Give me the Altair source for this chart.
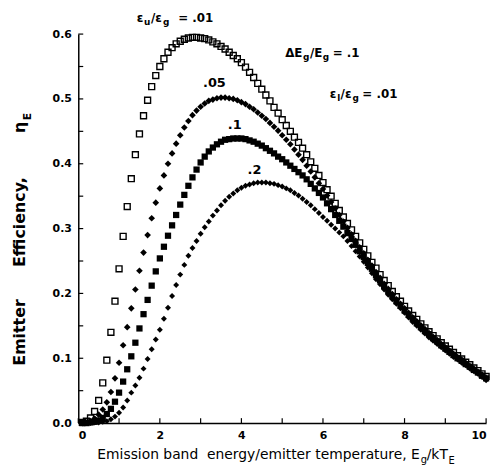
import altair as alt
import pandas as pd

# ---------------- data ----------------
X = [round(0.1 * i, 1) for i in range(1, 101)]

# eps_u/eps_g = .01  (open squares)
Y_001 = [0.001, 0.003, 0.008, 0.018, 0.035, 0.062, 0.097, 0.140, 0.188, 0.238,
         0.288, 0.334, 0.377, 0.414, 0.446, 0.474, 0.498, 0.519, 0.536, 0.550,
         0.562, 0.572, 0.579, 0.585, 0.589, 0.592, 0.594, 0.595, 0.595, 0.594,
         0.593, 0.591, 0.588, 0.585, 0.581, 0.577, 0.572, 0.567, 0.562, 0.556,
         0.549, 0.541, 0.533, 0.524, 0.515, 0.506, 0.497, 0.487, 0.478, 0.468,
         0.459, 0.450, 0.441, 0.433, 0.424, 0.414, 0.403, 0.393, 0.382, 0.371,
         0.360, 0.350, 0.339, 0.328, 0.318, 0.308, 0.298, 0.288, 0.278, 0.268,
         0.258, 0.248, 0.239, 0.229, 0.220, 0.212, 0.203, 0.195, 0.188, 0.180,
         0.173, 0.166, 0.160, 0.153, 0.147, 0.141, 0.135, 0.130, 0.124, 0.119,
         0.114, 0.109, 0.104, 0.099, 0.094, 0.090, 0.085, 0.081, 0.076, 0.072]

# .05 (filled diamonds)
Y_005 = [0.000, 0.001, 0.003, 0.007, 0.013, 0.021, 0.032, 0.048, 0.069, 0.093,
         0.120, 0.148, 0.177, 0.206, 0.235, 0.263, 0.290, 0.316, 0.340, 0.362,
         0.382, 0.400, 0.416, 0.431, 0.444, 0.456, 0.466, 0.475, 0.482, 0.488,
         0.493, 0.497, 0.499, 0.501, 0.502, 0.502, 0.501, 0.500, 0.498, 0.495,
         0.492, 0.488, 0.484, 0.479, 0.474, 0.469, 0.463, 0.457, 0.451, 0.444,
         0.437, 0.430, 0.422, 0.414, 0.406, 0.397, 0.388, 0.379, 0.370, 0.361,
         0.351, 0.341, 0.331, 0.321, 0.311, 0.301, 0.291, 0.281, 0.271, 0.262,
         0.252, 0.243, 0.233, 0.224, 0.215, 0.207, 0.199, 0.191, 0.184, 0.177,
         0.170, 0.163, 0.157, 0.151, 0.145, 0.139, 0.133, 0.128, 0.122, 0.117,
         0.112, 0.107, 0.102, 0.098, 0.093, 0.088, 0.084, 0.079, 0.075, 0.070]

# .1 (filled squares)
Y_01 = [0.000, 0.000, 0.001, 0.002, 0.004, 0.008, 0.014, 0.022, 0.033, 0.047,
        0.064, 0.083, 0.103, 0.124, 0.146, 0.168, 0.190, 0.212, 0.234, 0.254,
        0.272, 0.289, 0.305, 0.321, 0.337, 0.352, 0.366, 0.379, 0.391, 0.402,
        0.411, 0.419, 0.425, 0.430, 0.434, 0.437, 0.438, 0.439, 0.439, 0.439,
        0.438, 0.436, 0.434, 0.431, 0.428, 0.424, 0.420, 0.416, 0.411, 0.407,
        0.402, 0.397, 0.392, 0.387, 0.382, 0.376, 0.369, 0.362, 0.355, 0.348,
        0.339, 0.330, 0.321, 0.312, 0.303, 0.293, 0.284, 0.275, 0.265, 0.256,
        0.247, 0.238, 0.228, 0.220, 0.211, 0.203, 0.196, 0.188, 0.181, 0.174,
        0.167, 0.161, 0.154, 0.148, 0.142, 0.137, 0.131, 0.126, 0.120, 0.115,
        0.110, 0.105, 0.100, 0.096, 0.091, 0.087, 0.082, 0.078, 0.073, 0.069]

# .2 (small filled diamonds)
Y_02 = [0.000, 0.000, 0.000, 0.001, 0.001, 0.002, 0.003, 0.006, 0.010, 0.016,
        0.024, 0.035, 0.047, 0.058, 0.070, 0.084, 0.099, 0.114, 0.129, 0.144,
        0.161, 0.178, 0.196, 0.213, 0.229, 0.244, 0.258, 0.270, 0.281, 0.292,
        0.302, 0.311, 0.320, 0.328, 0.336, 0.343, 0.349, 0.354, 0.359, 0.363,
        0.366, 0.368, 0.370, 0.371, 0.371, 0.371, 0.370, 0.369, 0.367, 0.365,
        0.362, 0.359, 0.355, 0.351, 0.346, 0.341, 0.336, 0.330, 0.324, 0.318,
        0.312, 0.306, 0.300, 0.294, 0.288, 0.281, 0.273, 0.265, 0.257, 0.249,
        0.240, 0.231, 0.222, 0.214, 0.206, 0.198, 0.191, 0.184, 0.177, 0.170,
        0.163, 0.156, 0.150, 0.144, 0.138, 0.132, 0.127, 0.122, 0.117, 0.112,
        0.107, 0.102, 0.098, 0.093, 0.089, 0.084, 0.080, 0.076, 0.071, 0.066]

X_TICKS = [0, 1, 2, 3, 4, 5, 6, 7, 8, 9, 10]
X_LABELS = [0, 2, 4, 6, 8, 10]
Y_TICKS = [0.0, 0.05, 0.1, 0.15, 0.2, 0.25, 0.3, 0.35, 0.4, 0.45, 0.5, 0.55, 0.6]
Y_LABELS = [0.0, 0.1, 0.2, 0.3, 0.4, 0.5, 0.6]

# ---------------- layout ----------------
W, H = 412, 393          # plot area
L, T = 79, 32            # page position of the plot origin (top-left)
FONT = "DejaVu Sans"
NB = "\u00a0"

xs = alt.Scale(domain=[0, 10], nice=False, zero=False)
ys = alt.Scale(domain=[0, 0.6], nice=False, zero=False)

x_axis = alt.Axis(values=X_LABELS, ticks=False, grid=False, domainColor="black",
                  domainWidth=1.5, labelFont=FONT, labelFontWeight="bold",
                  labelFontSize=11, labelColor="black", labelPadding=7, title=None)
y_axis = alt.Axis(values=Y_LABELS, format=".1f", ticks=False, grid=False,
                  domainColor="black", domainWidth=1.5, labelFont=FONT,
                  labelFontWeight="bold", labelFontSize=11, labelColor="black",
                  labelPadding=7, title=None)


def series(vals, shape, size, filled, sw):
    df = pd.DataFrame({"x": X, "y": vals})
    return alt.Chart(df).mark_point(
        shape=shape, size=size, filled=filled, color="black",
        strokeWidth=sw, opacity=1, fillOpacity=1
    ).encode(
        x=alt.X("x:Q", scale=xs, axis=x_axis),
        y=alt.Y("y:Q", scale=ys, axis=y_axis),
    )


def label(text, px, py, size, weight="bold", align="left", angle=0):
    return alt.Chart(pd.DataFrame({"t": [text]})).mark_text(
        align=align, baseline="alphabetic", fontSize=size, fontWeight=weight,
        font=FONT, angle=angle, color="black"
    ).encode(x=alt.value(px - L), y=alt.value(py - T), text="t:N")


xt = alt.Chart(pd.DataFrame({"v": X_TICKS})).mark_rule(color="black", strokeWidth=1.2).encode(
    x=alt.X("v:Q", scale=xs, axis=x_axis), y=alt.value(H), y2=alt.value(H - 5))
yt = alt.Chart(pd.DataFrame({"v": Y_TICKS})).mark_rule(color="black", strokeWidth=1.2).encode(
    y=alt.Y("v:Q", scale=ys, axis=y_axis), x=alt.value(0), x2=alt.value(5))

layers = [
    series(Y_02, "diamond", 36, True, 0.5),
    series(Y_01, "square", 40, True, 0.5),
    series(Y_005, "diamond", 45, True, 0.5),
    series(Y_001, "square", 36, False, 1.4),
    xt, yt,
    # annotations
    label("ε", 138, 20, 12), label("u", 145.5, 23, 9), label("/ε", 152.5, 20, 12),
    label("g", 164.5, 23, 9), label("= .01", 180, 20, 12),
    label("ΔE", 288, 55, 12), label("g", 306, 58, 9), label("/E", 313, 55, 12),
    label("g", 326, 58, 9), label("= .1", 336, 55, 12),
    label("ε", 333, 97, 12), label("l", 340.5, 100, 9), label("/ε", 344, 97, 12),
    label("g", 356, 100, 9), label("= .01", 366, 97, 12),
    label(".05", 205, 85, 13), label(".1", 230, 128, 13), label(".2", 250, 173, 13),
    # x title
    label("Emission band" + NB + NB + "energy/emitter temperature, E", 424, 461, 14,
          weight="normal", align="right"),
    label("g", 425, 465, 10, weight="normal"),
    label("/kT", 431, 461, 14, weight="normal"),
    label("E", 453, 466, 10, weight="normal"),
    # y title
    label("Emitter", 25, 367, 16, angle=270),
    label("Efficiency,", 25, 222, 16, align="center", angle=270),
    label("η", 25, 132, 16, angle=270),
    label("E", 31, 119, 11, angle=270),
]

chart = alt.layer(*layers).properties(
    width=W, height=H,
    padding={"left": L - 8, "top": T - 8, "right": 10, "bottom": 42},
    autosize=alt.AutoSizeParams(type="none"),
    background="white",
).configure_view(stroke=None)

chart.save("out.html", embed_options={"renderer": "svg", "actions": False})
